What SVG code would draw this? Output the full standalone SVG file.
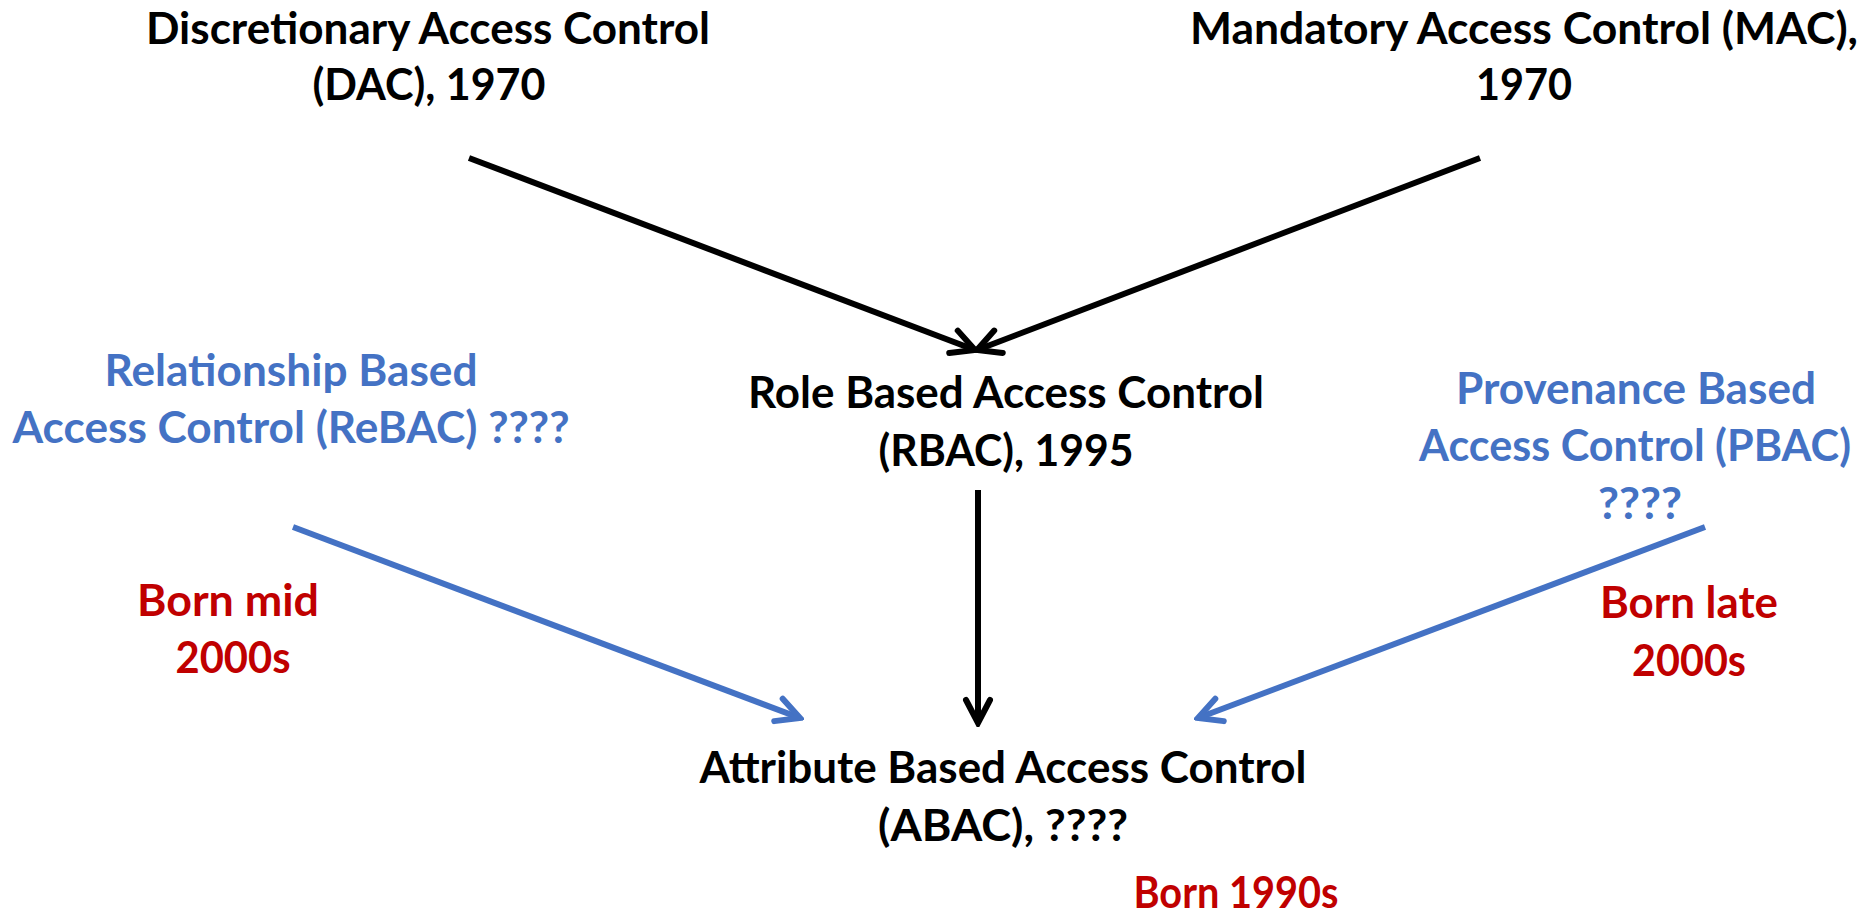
<svg xmlns="http://www.w3.org/2000/svg" width="1866" height="917" viewBox="0 0 1866 917">
<style>
text{font-family:Lato,"Open Sans","Liberation Sans",sans-serif;font-weight:700;font-size:44px;text-anchor:middle}
.k{fill:#000}
.b{fill:#4472C4}
.r{fill:#C00000}
.lk{stroke:#000;stroke-width:6;fill:none}
.lb{stroke:#4472C4;stroke-width:6;fill:none}
</style>
<defs>
<marker id="ak" markerUnits="userSpaceOnUse" markerWidth="34" markerHeight="34" viewBox="0 0 34 34" refX="30" refY="17" orient="auto">
<path d="M7,5 L30,17 L7,29" fill="none" stroke="#000" stroke-width="6" stroke-linecap="round" stroke-linejoin="miter"/>
</marker>
<marker id="ab" markerUnits="userSpaceOnUse" markerWidth="34" markerHeight="34" viewBox="0 0 34 34" refX="30" refY="17" orient="auto">
<path d="M7,5 L30,17 L7,29" fill="none" stroke="#4472C4" stroke-width="6" stroke-linecap="round" stroke-linejoin="miter"/>
</marker>
</defs>
<g id="connectors">
<line class="lk" x1="469" y1="158" x2="975" y2="350" marker-end="url(#ak)"/>
<line class="lk" x1="1480" y1="158" x2="977" y2="350" marker-end="url(#ak)"/>
<line class="lk" x1="978" y1="490" x2="978" y2="723" marker-end="url(#ak)"/>
<line class="lb" x1="293" y1="527" x2="800" y2="718" marker-end="url(#ab)"/>
<line class="lb" x1="1705" y1="527" x2="1198" y2="718" marker-end="url(#ab)"/>
</g>
<g id="dac">
<text class="k" x="428" y="44" textLength="564" lengthAdjust="spacingAndGlyphs">Discretionary Access Control</text>
<text class="k" x="429" y="100" textLength="233" lengthAdjust="spacingAndGlyphs">(DAC), 1970</text>
</g>
<g id="mac">
<text class="k" x="1524" y="44" textLength="668" lengthAdjust="spacingAndGlyphs">Mandatory Access Control (MAC),</text>
<text class="k" x="1524" y="100" textLength="96" lengthAdjust="spacingAndGlyphs">1970</text>
</g>
<g id="rbac">
<text class="k" x="1006" y="408" textLength="516" lengthAdjust="spacingAndGlyphs">Role Based Access Control</text>
<text class="k" x="1006" y="466" textLength="255" lengthAdjust="spacingAndGlyphs">(RBAC), 1995</text>
</g>
<g id="rebac">
<text class="b" x="291" y="386" textLength="373" lengthAdjust="spacingAndGlyphs">Relationship Based</text>
<text class="b" x="291" y="443" textLength="557" lengthAdjust="spacingAndGlyphs">Access Control (ReBAC) ????</text>
</g>
<g id="pbac">
<text class="b" x="1636" y="404" textLength="360" lengthAdjust="spacingAndGlyphs">Provenance Based</text>
<text class="b" x="1635" y="461" textLength="432" lengthAdjust="spacingAndGlyphs">Access Control (PBAC)</text>
<text class="b" x="1640" y="519" textLength="84" lengthAdjust="spacingAndGlyphs">????</text>
</g>
<g id="born-mid">
<text class="r" x="228" y="616" textLength="182" lengthAdjust="spacingAndGlyphs">Born mid</text>
<text class="r" x="233" y="673" textLength="115" lengthAdjust="spacingAndGlyphs">2000s</text>
</g>
<g id="born-late">
<text class="r" x="1689" y="618" textLength="178" lengthAdjust="spacingAndGlyphs">Born late</text>
<text class="r" x="1689" y="676" textLength="114" lengthAdjust="spacingAndGlyphs">2000s</text>
</g>
<g id="abac">
<text class="k" x="1003" y="783" textLength="607" lengthAdjust="spacingAndGlyphs">Attribute Based Access Control</text>
<text class="k" x="1003" y="841" textLength="250" lengthAdjust="spacingAndGlyphs">(ABAC), ????</text>
</g>
<g id="born-1990s">
<text class="r" x="1236" y="908" textLength="205" lengthAdjust="spacingAndGlyphs">Born 1990s</text>
</g>
</svg>
